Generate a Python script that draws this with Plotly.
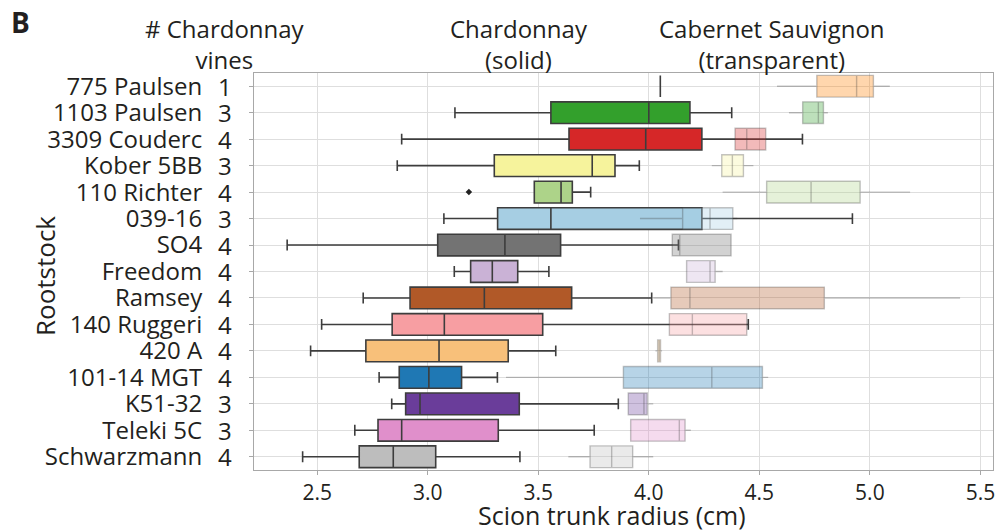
import plotly.graph_objects as go

# ---------------- data ----------------
rootstocks = ["775 Paulsen", "1103 Paulsen", "3309 Couderc", "Kober 5BB", "110 Richter",
              "039-16", "SO4", "Freedom", "Ramsey", "140 Ruggeri", "420 A",
              "101-14 MGT", "K51-32", "Teleki 5C", "Schwarzmann"]
n_chardonnay_vines = [1, 3, 4, 3, 4, 3, 4, 4, 4, 4, 4, 4, 3, 3, 4]

# Chardonnay (solid) box statistics, scion trunk radius (cm)
ch_lower = [4.052, 3.123, 2.882, 2.862, 3.482, 3.073, 2.364, 3.120, 2.708, 2.520, 2.470, 2.780, 2.837, 2.670, 2.434]
ch_q1    = [4.052, 3.557, 3.639, 3.301, 3.482, 3.316, 3.045, 3.194, 2.920, 2.839, 2.720, 2.871, 2.900, 2.775, 2.690]
ch_med   = [4.052, 4.000, 3.986, 3.744, 3.603, 3.557, 3.349, 3.292, 3.256, 3.075, 3.051, 3.005, 2.965, 2.882, 2.844]
ch_q3    = [4.052, 4.186, 4.240, 3.847, 3.654, 4.240, 3.601, 3.407, 3.651, 3.520, 3.364, 3.153, 3.414, 3.319, 3.036]
ch_upper = [4.052, 4.375, 4.695, 3.957, 3.737, 4.921, 4.134, 3.548, 4.013, 4.450, 3.579, 3.315, 3.862, 3.753, 3.417]
ch_outlier_rootstock = ["110 Richter"]
ch_outlier_value = [3.186]

# Cabernet Sauvignon (transparent) box statistics
cs_lower = [4.580, 4.634, 4.390, 4.285, 4.334, 3.960, 4.106, 4.171, 4.020, 4.093, 4.030, 3.354, 3.907, 3.918, 3.636]
cs_q1    = [4.760, 4.696, 4.390, 4.330, 4.533, 4.153, 4.106, 4.171, 4.100, 4.093, 4.040, 3.885, 3.907, 3.918, 3.734]
cs_med   = [4.940, 4.767, 4.443, 4.378, 4.734, 4.277, 4.140, 4.277, 4.186, 4.197, 4.047, 4.285, 3.978, 4.138, 3.832]
cs_q3    = [5.016, 4.790, 4.529, 4.428, 4.956, 4.380, 4.372, 4.300, 4.794, 4.443, 4.053, 4.514, 3.993, 4.164, 3.927]
cs_upper = [5.090, 4.810, 4.529, 4.473, 5.182, 4.400, 4.372, 4.334, 5.408, 4.450, 4.060, 4.540, 4.020, 4.190, 4.020]

colors = ["#ff7f00", "#33a02c", "#d62728", "#f6f39c", "#add389", "#a6cee3", "#737373",
          "#cab2d6", "#b15928", "#f79ea2", "#f8c07a", "#1f78b4", "#6a3d9a", "#e08fcb", "#bdbdbd"]

x_ticks = [2.5, 3.0, 3.5, 4.0, 4.5, 5.0, 5.5]

# ---------------- layout geometry ----------------
W, H = 1000, 531
L, R, T, B = 254, 7, 73, 61
PW, PH = W - L - R, H - T - B
FONT = "Open Sans"
TXT = "#231f20"


def xp(px):
    return (px - L) / PW


def yp(py):
    return 1 - (py - T) / PH


def rgba(hexc, a):
    h = hexc.lstrip("#")
    r, g, b = int(h[0:2], 16), int(h[2:4], 16), int(h[4:6], 16)
    return f"rgba({r},{g},{b},{a})"


fig = go.Figure()

# Chardonnay solid boxes
for i, name in enumerate(rootstocks):
    fig.add_trace(go.Box(
        y=[name], q1=[ch_q1[i]], median=[ch_med[i]], q3=[ch_q3[i]],
        lowerfence=[ch_lower[i]], upperfence=[ch_upper[i]],
        orientation="h", width=0.82, whiskerwidth=0.5,
        fillcolor=colors[i], line=dict(color="#3d3d3d", width=1.6),
        boxpoints=False, showlegend=False, hoverinfo="skip",
    ))

fig.add_trace(go.Scatter(
    x=ch_outlier_value, y=ch_outlier_rootstock, mode="markers",
    marker=dict(symbol="diamond", size=5, color="#222222"),
    showlegend=False, hoverinfo="skip",
))

# Cabernet Sauvignon transparent boxes
for i, name in enumerate(rootstocks):
    fig.add_trace(go.Box(
        y=[name], q1=[cs_q1[i]], median=[cs_med[i]], q3=[cs_q3[i]],
        lowerfence=[cs_lower[i]], upperfence=[cs_upper[i]],
        orientation="h", width=0.82, whiskerwidth=0,
        fillcolor=rgba(colors[i], 0.32), line=dict(color="rgba(60,60,60,0.3)", width=1.4),
        boxpoints=False, showlegend=False, hoverinfo="skip",
    ))

annotations = []
# vine counts column
for name, n in zip(rootstocks, n_chardonnay_vines):
    annotations.append(dict(x=xp(225), xref="paper", y=name, yref="y", text=str(n),
                            showarrow=False, xanchor="center", yanchor="middle",
                            font=dict(family=FONT, size=24, color=TXT)))

headers = [("# Chardonnay<br>vines", 225), ("Chardonnay<br>(solid)", 519),
           ("Cabernet Sauvignon<br>(transparent)", 772)]
for text, x in headers:
    annotations.append(dict(x=xp(x), xref="paper", y=yp(44), yref="paper", text=text,
                            showarrow=False, xanchor="center", yanchor="middle",
                            font=dict(family=FONT, size=24, color=TXT)))

annotations.append(dict(x=xp(20), xref="paper", y=yp(22), yref="paper", text="<b>B</b>",
                        showarrow=False, xanchor="center", yanchor="middle",
                        font=dict(family=FONT, size=28, color=TXT)))
annotations.append(dict(x=xp(45), xref="paper", y=yp(276), yref="paper", text="Rootstock",
                        textangle=-90, showarrow=False, xanchor="center", yanchor="middle",
                        font=dict(family=FONT, size=26, color=TXT)))
annotations.append(dict(x=xp(612), xref="paper", y=yp(515), yref="paper",
                        text="Scion trunk radius (cm)",
                        showarrow=False, xanchor="center", yanchor="middle",
                        font=dict(family=FONT, size=25, color=TXT)))

fig.update_layout(
    width=W, height=H,
    margin=dict(l=L, r=R, t=T, b=B, autoexpand=False),
    paper_bgcolor="white", plot_bgcolor="white",
    boxmode="overlay", showlegend=False,
    annotations=annotations,
    xaxis=dict(range=[2.214, 5.557], tickvals=x_ticks,
               ticktext=[f"{v:.1f}" for v in x_ticks],
               showgrid=True, gridcolor="#dedede", gridwidth=1,
               showline=True, linecolor="#a8a8a8", linewidth=1, mirror=True,
               ticks="outside", ticklen=4, tickcolor="#a8a8a8",
               tickfont=dict(family=FONT, size=21, color=TXT),
               zeroline=False, fixedrange=True),
    yaxis=dict(type="category", categoryorder="array", categoryarray=rootstocks,
               tickmode="array", tickvals=rootstocks, ticktext=rootstocks,
               range=[14.5, -0.5],
               showgrid=True, gridcolor="#dedede", gridwidth=1,
               showline=True, linecolor="#a8a8a8", linewidth=1, mirror=True,
               ticks="outside", ticklen=4, tickcolor="#a8a8a8",
               ticklabelstandoff=42,
               tickfont=dict(family=FONT, size=24, color=TXT),
               zeroline=False, fixedrange=True),
)

fig.write_html("out.html", config={"displayModeBar": False},
               post_script="document.body.style.margin='0';document.body.style.overflow='hidden';")
